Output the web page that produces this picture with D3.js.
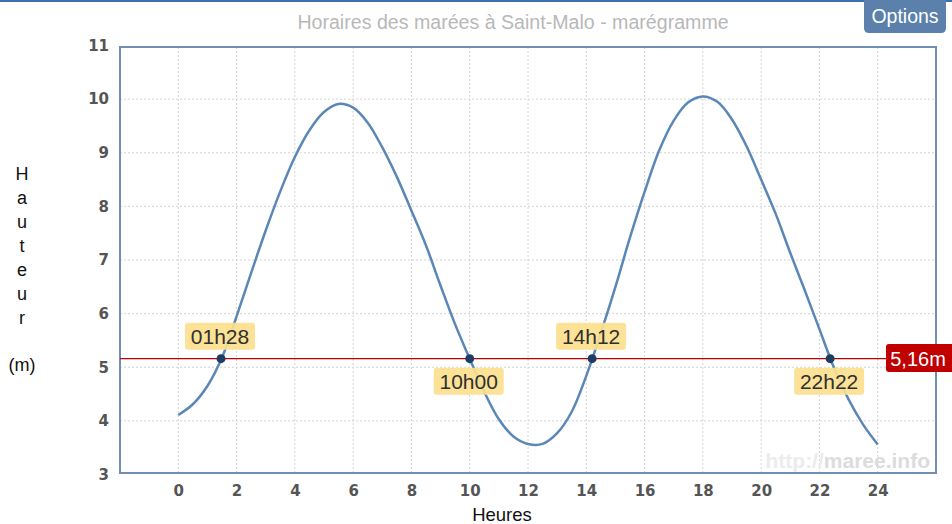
<!DOCTYPE html>
<html>
<head>
<meta charset="utf-8">
<script src="https://cdn.jsdelivr.net/npm/d3@7"></script>
<style>
  body { margin: 0; background: #fff; }
  svg { display: block; font-family: "Liberation Sans", Arial, sans-serif; }
</style>
</head>
<body>
<svg id="chart" width="952" height="524"></svg>
<script>
const hours = [0, 0.5, 1, 1.5, 2, 2.5, 3, 3.5, 4, 4.5, 5, 5.5, 6, 6.5, 7, 7.5, 8, 8.5, 9, 9.5, 10, 10.5, 11, 11.5, 12,
  12.5, 13, 13.5, 14, 14.5, 15, 15.5, 16, 16.5, 17, 17.5, 18, 18.5, 19, 19.5, 20, 20.5, 21, 21.5, 22, 22.5, 23, 23.5, 24]
const heights = [4.11, 4.31, 4.65, 5.18, 5.95, 6.76, 7.55, 8.28, 8.92, 9.42, 9.76, 9.91, 9.84, 9.56, 9.10, 8.55, 7.92, 7.27, 6.52, 5.80, 5.16, 4.54, 4.03, 3.71, 3.57,
  3.57, 3.77, 4.17, 4.84, 5.64, 6.50, 7.42, 8.27, 9.04, 9.60, 9.94, 10.05, 9.95, 9.62, 9.12, 8.50, 7.86, 7.13, 6.43, 5.71, 4.99, 4.40, 3.93, 3.56]

const crossTimes = ["01h28", "10h00", "14h12", "22h22"]
const crossHours = [1.467, 10.0, 14.2, 22.367]
const level = 5.16
const levelLabel = "5,16m"

const xTicks = [0, 2, 4, 6, 8, 10, 12, 14, 16, 18, 20, 22, 24]
const yTicks = [3, 4, 5, 6, 7, 8, 9, 10, 11]

const svg = d3.select("#chart")

// plot box
let pLeft = 120, pRight = 936, pTop = 47, pBottom = 473

let x = d3.scaleLinear().domain([-2, 26]).range([pLeft, pRight])
let y = d3.scaleLinear().domain([3, 11]).range([474.5, 45.5])

// blue strip at top of the page
svg.append("rect").attr("x", 0).attr("y", 0).attr("width", 952).attr("height", 2).attr("fill", "#3b6fae")

svg.append("text")
    .attr("x", 513).attr("y", 29)
    .attr("text-anchor", "middle")
    .attr("font-size", 19.6)
    .attr("fill", "#b8b8b8")
    .text("Horaires des marées à Saint-Malo - marégramme")

// options button
svg.append("path")
    .attr("d", "M864,0 H946 V28 Q946,33 941,33 H869 Q864,33 864,28 Z")
    .attr("fill", "#5a80ab")
svg.append("text")
    .attr("x", 905).attr("y", 23)
    .attr("text-anchor", "middle")
    .attr("font-size", 19.5)
    .attr("fill", "#fff")
    .text("Options")

// grid
let grid = svg.append("g")
grid.selectAll("line.v").data(xTicks).enter().append("line")
    .attr("x1", d => x(d)).attr("x2", d => x(d))
    .attr("y1", pTop).attr("y2", pBottom)
    .attr("stroke", "#d4d4d4").attr("stroke-dasharray", "2,2")
grid.selectAll("line.h").data(yTicks.slice(1, -1)).enter().append("line")
    .attr("x1", pLeft).attr("x2", pRight)
    .attr("y1", d => y(d)).attr("y2", d => y(d))
    .attr("stroke", "#d4d4d4").attr("stroke-dasharray", "2,2")

// axes labels via d3 axes
let yAxis = svg.append("g").attr("transform", `translate(${pLeft},0)`)
    .call(d3.axisLeft(y).tickValues(yTicks).tickSize(0).tickPadding(11).tickFormat(d3.format("d")))
let xAxis = svg.append("g").attr("transform", `translate(0,${pBottom})`)
    .call(d3.axisBottom(x).tickValues(xTicks).tickSize(0).tickPadding(12).tickFormat(d3.format("d")))
svg.selectAll(".domain").remove()
svg.selectAll(".tick text")
    .attr("font-size", 15).attr("font-weight", "bold").attr("fill", "#555")
    .attr("font-family", "\"DejaVu Sans\", Verdana, sans-serif")

// watermark
let wm = svg.append("text").attr("x", 930).attr("y", 468).attr("text-anchor", "end")
    .attr("font-size", 21).attr("font-weight", "bold")
wm.append("tspan").attr("fill", "#ececec").text("http://")
wm.append("tspan").attr("fill", "#dcdcdc").text("maree.info")

// plot border
svg.append("rect")
    .attr("x", pLeft).attr("y", pTop)
    .attr("width", pRight - pLeft).attr("height", pBottom - pTop)
    .attr("fill", "none").attr("stroke", "#6f8fb6").attr("stroke-width", 2)

// level line
svg.append("line")
    .attr("x1", pLeft).attr("x2", 888)
    .attr("y1", y(level)).attr("y2", y(level))
    .attr("stroke", "#b80000").attr("stroke-width", 1.3)

// tide curve
let pts = hours.map((h, i) => [h, heights[i]])
let line = d3.line().x(d => x(d[0])).y(d => y(d[1])).curve(d3.curveCatmullRom.alpha(0.5))
svg.append("path").datum(pts)
    .attr("d", line)
    .attr("fill", "none").attr("stroke", "#5b87b6").attr("stroke-width", 2.5)

// crossing labels
crossHours.forEach((h, i) => {
    let cx = x(h), cy = y(level)
    let above = i % 2 == 0
    let by = above ? cy - 36 : cy + 9
    svg.append("rect")
        .attr("x", cx - 36).attr("y", by)
        .attr("width", 70).attr("height", 27).attr("rx", 3)
        .attr("fill", "#fbe08e").attr("opacity", 0.92)
    svg.append("text")
        .attr("x", cx - 1).attr("y", by + 21)
        .attr("text-anchor", "middle")
        .attr("font-size", 21).attr("fill", "#2f2f2f")
        .text(crossTimes[i])
    svg.append("circle")
        .attr("cx", cx).attr("cy", cy).attr("r", 4.5)
        .attr("fill", "#1e3d63")
})

// level tag
svg.append("rect")
    .attr("x", 886).attr("y", 344)
    .attr("width", 70).attr("height", 28).attr("rx", 3)
    .attr("fill", "#c00000")
svg.append("text")
    .attr("x", 918).attr("y", 366)
    .attr("text-anchor", "middle")
    .attr("font-size", 20).attr("fill", "#fff")
    .text(levelLabel)

// axis titles
svg.append("text")
    .attr("x", 502).attr("y", 521)
    .attr("text-anchor", "middle").attr("font-size", 18.5).attr("fill", "#111")
    .text("Heures")

let letters = "Hauteur".split("")
svg.selectAll("text.yl").data(letters).enter().append("text")
    .attr("x", 22).attr("y", (d, i) => 180 + i * 24)
    .attr("text-anchor", "middle").attr("font-size", 18).attr("fill", "#111")
    .text(d => d)
svg.append("text")
    .attr("x", 22).attr("y", 371)
    .attr("text-anchor", "middle").attr("font-size", 18).attr("fill", "#111")
    .text("(m)")
</script>
</body>
</html>
